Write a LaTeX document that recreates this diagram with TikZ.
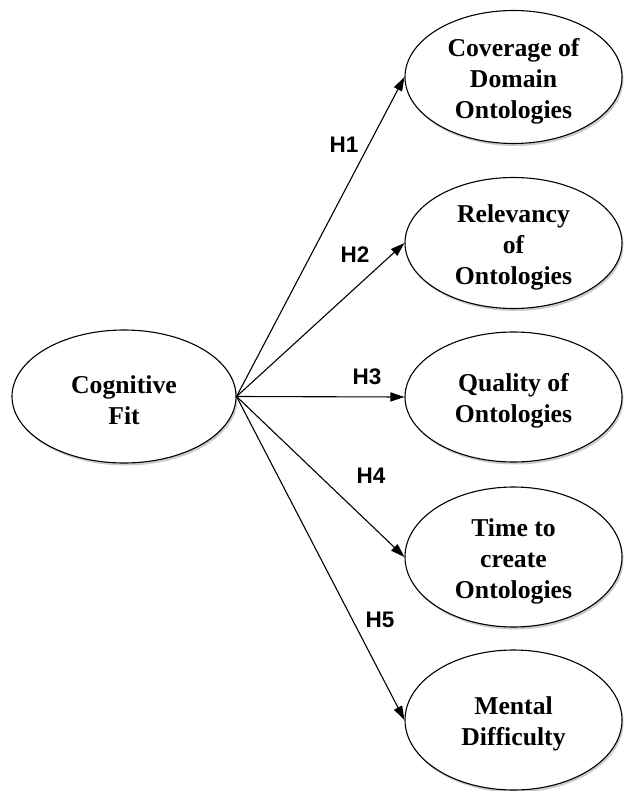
\documentclass[tikz,border=0pt]{standalone}
\usepackage{fontspec}
\setmainfont{Liberation Serif}
\newfontfamily\labelfont{Liberation Sans}
\usetikzlibrary{shapes.geometric,arrows.meta,shadows}
\begin{document}
\begin{tikzpicture}[x=1pt,y=-1pt,
  construct/.style={ellipse, draw=black, line width=1.1pt, fill=white,
    inner sep=0pt,
    drop shadow={shadow xshift=1.5pt, shadow yshift=-2.5pt, opacity=0.2, fill=black}},
  ctext/.style={align=center, inner sep=0pt, yshift=-4pt,
    font=\fontsize{25.7}{31}\selectfont\bfseries},
  link/.style={line width=1.1pt, -{Triangle[length=14pt,width=9pt]}},
  hyp/.style={font=\labelfont\fontsize{22.5}{25}\selectfont\bfseries, inner sep=0pt}]
  \useasboundingbox (0,0) rectangle (623,791);

  % predictor
  \node[construct, minimum width=224pt, minimum height=133pt,
    label={[ctext]center:Cognitive\\Fit}] (cf) at (124,396.5) {};

  % outcomes
  \node[construct, minimum width=217pt, minimum height=133pt,
    label={[ctext]center:Coverage of\\Domain\\Ontologies}] (c1) at (513.5,77) {};
  \node[construct, minimum width=217pt, minimum height=131pt,
    label={[ctext]center:Relevancy\\of\\Ontologies}] (c2) at (513.5,243) {};
  \node[construct, minimum width=217pt, minimum height=130pt,
    label={[ctext]center:Quality of\\Ontologies}] (c3) at (513.5,397) {};
  \node[construct, minimum width=217pt, minimum height=140pt,
    label={[ctext]center:Time to\\create\\Ontologies}] (c4) at (513.5,557) {};
  \node[construct, minimum width=217pt, minimum height=140pt,
    label={[ctext]center:Mental\\Difficulty}] (c5) at (513.5,720) {};

  % hypothesised paths
  \draw[link] (cf.east) -- (c1.west);
  \draw[link] (cf.east) -- (c2.west);
  \draw[link] (cf.east) -- (c3.west);
  \draw[link] (cf.east) -- (c4.west);
  \draw[link] (cf.east) -- (c5.west);

  % path labels
  \node[hyp] (h1) at (344,145) {H1};
  \node[hyp] (h2) at (355,255) {H2};
  \node[hyp] (h3) at (367,377) {H3};
  \node[hyp] (h4) at (371,476) {H4};
  \node[hyp] (h5) at (380,620) {H5};
\end{tikzpicture}
\end{document}
